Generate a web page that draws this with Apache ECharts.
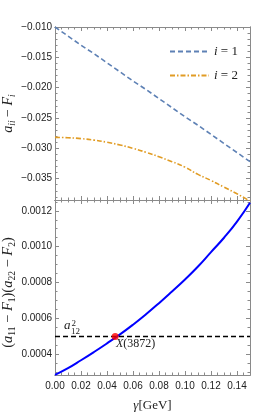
<!DOCTYPE html>
<html><head><meta charset="utf-8">
<script src="https://cdn.jsdelivr.net/npm/echarts@6/dist/echarts.min.js"></script>
<style>html,body{margin:0;padding:0;background:#fff}#c{width:266px;height:413px}</style>
</head><body><div id="c"></div>
<script>
// ---- data ----
const gamma = [0, 0.01, 0.02, 0.03, 0.04, 0.05, 0.06, 0.07, 0.08, 0.09, 0.10, 0.11, 0.12, 0.13, 0.14, 0.15];
const diff1 = [-0.0100, -0.0115, -0.0130, -0.0144, -0.0159, -0.0174, -0.0189, -0.0203, -0.0218, -0.0233, -0.0248, -0.0262, -0.0277, -0.0292, -0.0307, -0.0322];
const diff2 = [-0.0282, -0.02825, -0.0284, -0.02865, -0.0290, -0.02945, -0.0300, -0.03065, -0.0314, -0.0322, -0.0331, -0.0343, -0.0353, -0.0364, -0.0375, -0.0387];
const product = [0.000287, 0.000324, 0.000368, 0.000414, 0.000462, 0.000512, 0.000566, 0.000624, 0.000686, 0.000751, 0.000818, 0.00089, 0.00097, 0.00105, 0.00114, 0.001245];
const a12sq = 0.0005;
const xPoint = [0.0463, 0.0005];
const xTicks = [0, 0.02, 0.04, 0.06, 0.08, 0.10, 0.12, 0.14];
const yTopTicks = [-0.035, -0.030, -0.025, -0.020, -0.015, -0.010];
const yBotTicks = [0.0004, 0.0006, 0.0008, 0.0010, 0.0012];
const legendNames = ['i = 1', 'i = 2'];

function steps(a, b, s, dec) { const r = []; for (let v = a; v <= b + s / 2; v += s) r.push(+v.toFixed(dec)); return r; }
const xMinor = steps(0, 0.15, 0.005, 4);
const yTopMinor = steps(-0.038, -0.010, 0.001, 4);
const yBotMinor = steps(0.0003, 0.00125, 0.00005, 6);

const frameColor = '#8a8a8a';
const labelFont = 'Liberation Sans';
const serif = 'Liberation Serif';

function axis(dim, grid, pos, min, max, ticks, len, label, extra) {
  const o = {
    type: 'value', gridIndex: grid, position: pos, min: min, max: max, nameMoveOverlap: false,
    axisLine: { show: true, onZero: false, lineStyle: { color: frameColor, width: 1 } },
    axisTick: { show: true, inside: true, length: len, customValues: ticks, lineStyle: { color: frameColor, width: 1 } },
    axisLabel: label ? Object.assign({ show: true, customValues: ticks, fontFamily: labelFont, fontSize: 10, color: '#222', margin: 3 }, label) : { show: false },
    splitLine: { show: false }, minorTick: { show: false }
  };
  return Object.assign(o, extra || {});
}
const xr = [0, 0.15];
const yTopR = [-0.03852, -0.010];
const yBotR = [0.000286, 0.00126];
const minus = v => (v < 0 ? '\u2212' : '') + Math.abs(v).toFixed(3);

const xAxes = [
  axis('x', 0, 'bottom', xr[0], xr[1], xTicks, 4, null),
  axis('x', 0, 'bottom', xr[0], xr[1], xMinor, 2.5, null),
  axis('x', 0, 'top', xr[0], xr[1], xTicks, 4, null),
  axis('x', 0, 'top', xr[0], xr[1], xMinor, 2.5, null),
  axis('x', 1, 'bottom', xr[0], xr[1], xTicks, 4, { formatter: v => v.toFixed(2), margin: 6 }, {
    name: '{g|γ}[GeV]', nameLocation: 'middle', nameGap: 24,
    nameTextStyle: { fontFamily: serif, fontSize: 13, color: '#222', rich: { g: { fontFamily: serif, fontStyle: 'italic', fontSize: 13, color: '#222' } } }
  }),
  axis('x', 1, 'bottom', xr[0], xr[1], xMinor, 2.5, null),
  axis('x', 1, 'top', xr[0], xr[1], xTicks, 4, null),
  axis('x', 1, 'top', xr[0], xr[1], xMinor, 2.5, null)
];
function richName(fs) {
  return {
    it: { fontFamily: serif, fontStyle: 'italic', fontSize: fs, color: '#222', lineHeight: 18, verticalAlign: 'middle' },
    n: { fontFamily: serif, fontSize: fs, color: '#222', lineHeight: 18, verticalAlign: 'middle' },
    sub: { fontFamily: serif, fontSize: 9.5, color: '#222', lineHeight: 10, verticalAlign: 'bottom' },
    subi: { fontFamily: serif, fontStyle: 'italic', fontSize: 9.5, color: '#222', lineHeight: 10, verticalAlign: 'bottom' }
  };
}
const yAxes = [
  axis('y', 0, 'left', yTopR[0], yTopR[1], yTopTicks, 4, { formatter: minus }, {
    name: '{it|a}{subi|ii}{n| − }{it|F}{subi|i}', nameLocation: 'middle', nameRotate: 90, nameGap: 38,
    nameTextStyle: { rich: richName(14) }
  }),
  axis('y', 0, 'left', yTopR[0], yTopR[1], yTopMinor, 2.5, null),
  axis('y', 0, 'right', yTopR[0], yTopR[1], yTopTicks, 4, null),
  axis('y', 0, 'right', yTopR[0], yTopR[1], yTopMinor, 2.5, null),
  axis('y', 1, 'left', yBotR[0], yBotR[1], yBotTicks, 4, { formatter: v => v.toFixed(4) }, {
    name: '{n|(}{it|a}{sub|11}{n| − }{it|F}{sub|1}{n|)(}{it|a}{sub|22}{n| − }{it|F}{sub|2}{n|)}', nameLocation: 'middle', nameRotate: 90, nameGap: 38,
    nameTextStyle: { rich: richName(14.5), padding: [0, 10, 0, 0] }
  }),
  axis('y', 1, 'left', yBotR[0], yBotR[1], yBotMinor, 2.5, null),
  axis('y', 1, 'right', yBotR[0], yBotR[1], yBotTicks, 4, null),
  axis('y', 1, 'right', yBotR[0], yBotR[1], yBotMinor, 2.5, null)
];

const chart = echarts.init(document.getElementById('c'), null, { renderer: 'canvas' });
chart.setOption({
  animation: false,
  backgroundColor: '#fff',
  grid: [
    { left: 55, top: 27, width: 195, height: 173, containLabel: false, outerBoundsMode: 'none' },
    { left: 55, top: 200, width: 195, height: 175, containLabel: false, outerBoundsMode: 'none' }
  ],
  xAxis: xAxes,
  yAxis: yAxes,
  legend: {
    data: legendNames, orient: 'vertical', left: 164, top: 40, itemWidth: 39, itemHeight: 14, itemGap: 11,
    itemStyle: { opacity: 0, borderWidth: 0 },
    formatter: n => '{i|i} = ' + n.split('= ')[1],
    textStyle: { fontFamily: serif, fontSize: 13, color: '#222', rich: { i: { fontFamily: serif, fontStyle: 'italic', fontSize: 13, color: '#222' } } }
  },
  series: [
    { name: legendNames[0], type: 'line', xAxisIndex: 0, yAxisIndex: 0, symbol: 'none', color: '#5E81B5',
      lineStyle: { color: '#5E81B5', width: 1.6, type: [5, 3] }, data: gamma.map((g, k) => [g, diff1[k]]) },
    { name: legendNames[1], type: 'line', xAxisIndex: 0, yAxisIndex: 0, symbol: 'none', smooth: true, color: '#E19C24',
      lineStyle: { color: '#E19C24', width: 1.6, type: [5, 2, 1.5, 2] }, data: gamma.map((g, k) => [g, diff2[k]]) },
    { name: 'prod', type: 'line', xAxisIndex: 4, yAxisIndex: 4, symbol: 'none', smooth: true, color: '#0000FF',
      lineStyle: { color: '#0000FF', width: 2 }, data: gamma.map((g, k) => [g, product[k]]) },
    { name: 'a12', type: 'line', xAxisIndex: 4, yAxisIndex: 4, symbol: 'none', color: '#000',
      lineStyle: { color: '#000', width: 1.5, type: [5, 3] }, data: [[xr[0], a12sq], [xr[1], a12sq]] },
    { name: 'X', type: 'scatter', xAxisIndex: 4, yAxisIndex: 4, symbolSize: 7, itemStyle: { color: '#FF0000' }, data: [xPoint], z: 5 }
  ],
  graphic: [
    { type: 'text', left: 64, top: 319, style: { text: 'a', font: 'italic 13px "Liberation Serif"', fill: '#222' } },
    { type: 'text', left: 71.5, top: 319, style: { text: '2', font: '9px "Liberation Serif"', fill: '#222' } },
    { type: 'text', left: 71, top: 327, style: { text: '12', font: '9px "Liberation Serif"', fill: '#222' } },
    { type: 'text', left: 116, top: 338, style: { text: '{x|X}(3872)', font: '12px "Liberation Serif"', fill: '#222',
      rich: { x: { fontFamily: serif, fontStyle: 'italic', fontSize: 12, color: '#222' } } } }
  ]
});
</script></body></html>
